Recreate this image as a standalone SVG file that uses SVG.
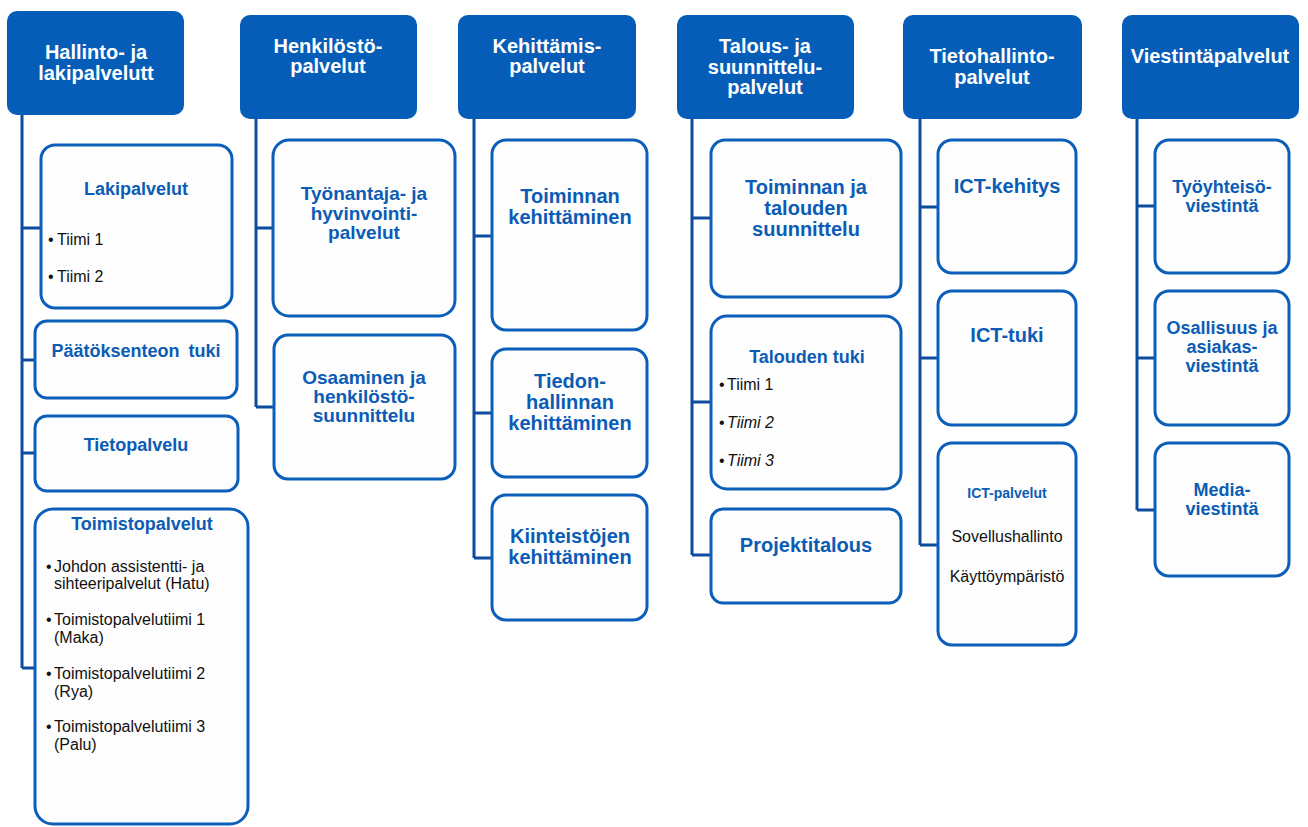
<svg xmlns="http://www.w3.org/2000/svg" width="1308" height="827" viewBox="0 0 1308 827">
<style>
.hd{fill:#055DB8;}
.bx{fill:#FDFDFD;stroke:#0B5EB9;stroke-width:3;}
.ln{fill:none;stroke:#0C4C9E;stroke-width:3;}
.ht{font-family:"Liberation Sans",Arial,sans-serif;font-weight:bold;font-size:20px;fill:#FFFFFF;text-anchor:middle;}
.bt{font-family:"Liberation Sans",Arial,sans-serif;font-weight:bold;fill:#0B5CB5;text-anchor:middle;}
.tx{font-family:"Liberation Sans",Arial,sans-serif;fill:#111111;font-size:16px;}
</style>
<rect width="1308" height="827" fill="#FFFFFF"/>
<g id="connectors">
<path class="ln" d="M22,115 V668 M22,228 H41 M22,360 H35 M22,453 H35 M22,668 H35"/>
<path class="ln" d="M256,119 V407 M256,228 H273 M256,407 H274"/>
<path class="ln" d="M474,119 V558 M474,236 H492 M474,413 H492 M474,558 H492"/>
<path class="ln" d="M692,119 V555 M692,218 H711 M692,402 H711 M692,555 H711"/>
<path class="ln" d="M920,119 V545 M920,207 H938 M920,358 H938 M920,545 H938"/>
<path class="ln" d="M1137,119 V510 M1137,206 H1155 M1137,358 H1155 M1137,510 H1155"/>
</g>
<g id="h1"><rect class="hd" x="7" y="11" width="177" height="104" rx="10"/>
<text class="ht" x="96" y="59">Hallinto- ja</text><text class="ht" x="96" y="80">lakipalvelutt</text></g>
<g id="h2"><rect class="hd" x="240" y="15" width="177" height="104" rx="10"/>
<text class="ht" x="328" y="53">Henkilöstö-</text><text class="ht" x="328" y="73">palvelut</text></g>
<g id="h3"><rect class="hd" x="458" y="15" width="178" height="104" rx="10"/>
<text class="ht" x="547" y="53">Kehittämis-</text><text class="ht" x="547" y="73">palvelut</text></g>
<g id="h4"><rect class="hd" x="677" y="15" width="177" height="104" rx="10"/>
<text class="ht" x="765" y="53">Talous- ja</text><text class="ht" x="765" y="74">suunnittelu-</text><text class="ht" x="765" y="94">palvelut</text></g>
<g id="h5"><rect class="hd" x="903" y="15" width="179" height="104" rx="10"/>
<text class="ht" x="992" y="63">Tietohallinto-</text><text class="ht" x="992" y="84">palvelut</text></g>
<g id="h6"><rect class="hd" x="1122" y="15" width="177" height="104" rx="10"/>
<text class="ht" x="1210" y="63">Viestintäpalvelut</text></g>

<g id="lakipalvelut"><rect class="bx" x="41" y="145" width="191" height="163" rx="14"/>
<text class="bt" x="136" y="195" font-size="18">Lakipalvelut</text>
<text class="tx" x="48" y="245">•<tspan x="57">Tiimi 1</tspan></text>
<text class="tx" x="48" y="282">•<tspan x="57">Tiimi 2</tspan></text></g>
<g id="paatoksenteon"><rect class="bx" x="35" y="321" width="202" height="77" rx="12"/>
<text class="bt" x="136" y="357" font-size="18" word-spacing="4">Päätöksenteon tuki</text></g>
<g id="tietopalvelu"><rect class="bx" x="35" y="416" width="203" height="75" rx="12"/>
<text class="bt" x="136" y="451" font-size="18">Tietopalvelu</text></g>
<g id="toimistopalvelut"><rect class="bx" x="35" y="509" width="213" height="315" rx="18"/>
<text class="bt" x="142" y="530" font-size="18">Toimistopalvelut</text>
<g font-size="16.4">
<text class="tx" x="46" y="572" font-size="16.4">•<tspan x="54">Johdon assistentti- ja</tspan></text>
<text class="tx" x="54" y="589" font-size="16.4">sihteeripalvelut (Hatu)</text>
<text class="tx" x="46" y="625" font-size="16.4">•<tspan x="54">Toimistopalvelutiimi 1</tspan></text>
<text class="tx" x="54" y="643" font-size="16.4">(Maka)</text>
<text class="tx" x="46" y="679" font-size="16.4">•<tspan x="54">Toimistopalvelutiimi 2</tspan></text>
<text class="tx" x="54" y="697" font-size="16.4">(Rya)</text>
<text class="tx" x="46" y="732" font-size="16.4">•<tspan x="54">Toimistopalvelutiimi 3</tspan></text>
<text class="tx" x="54" y="750" font-size="16.4">(Palu)</text></g></g>

<g id="tyonantaja"><rect class="bx" x="273" y="140" width="182" height="176" rx="16"/>
<text class="bt" x="364" y="200" font-size="19">Työnantaja- ja</text>
<text class="bt" x="364" y="220" font-size="19">hyvinvointi-</text>
<text class="bt" x="364" y="239" font-size="19">palvelut</text></g>
<g id="osaaminen"><rect class="bx" x="274" y="335" width="181" height="144" rx="14"/>
<text class="bt" x="364" y="384" font-size="19">Osaaminen ja</text>
<text class="bt" x="364" y="403" font-size="19">henkilöstö-</text>
<text class="bt" x="364" y="422" font-size="19">suunnittelu</text></g>

<g id="toiminnan-kehittaminen"><rect class="bx" x="492" y="140" width="155" height="190" rx="14"/>
<text class="bt" x="570" y="203" font-size="20">Toiminnan</text>
<text class="bt" x="570" y="224" font-size="20">kehittäminen</text></g>
<g id="tiedonhallinnan"><rect class="bx" x="492" y="349" width="155" height="128" rx="14"/>
<text class="bt" x="570" y="388" font-size="20">Tiedon-</text>
<text class="bt" x="570" y="409" font-size="20">hallinnan</text>
<text class="bt" x="570" y="430" font-size="20">kehittäminen</text></g>
<g id="kiinteistojen"><rect class="bx" x="492" y="495" width="155" height="125" rx="14"/>
<text class="bt" x="570" y="543" font-size="20">Kiinteistöjen</text>
<text class="bt" x="570" y="564" font-size="20">kehittäminen</text></g>

<g id="toiminnan-talouden"><rect class="bx" x="711" y="140" width="190" height="157" rx="14"/>
<text class="bt" x="806" y="194" font-size="20">Toiminnan ja</text>
<text class="bt" x="806" y="215" font-size="20">talouden</text>
<text class="bt" x="806" y="236" font-size="20">suunnittelu</text></g>
<g id="talouden-tuki"><rect class="bx" x="711" y="316" width="190" height="173" rx="16"/>
<text class="bt" x="807" y="363" font-size="18">Talouden tuki</text>
<text class="tx" x="719" y="390" font-size="15.6">•<tspan x="727">Tiimi 1</tspan></text>
<text class="tx" x="719" y="428" font-size="15.6">•<tspan x="727" font-style="italic">Tiimi 2</tspan></text>
<text class="tx" x="719" y="466" font-size="15.6">•<tspan x="727" font-style="italic">Tiimi 3</tspan></text></g>
<g id="projektitalous"><rect class="bx" x="711" y="509" width="190" height="94" rx="12"/>
<text class="bt" x="806" y="552" font-size="20">Projektitalous</text></g>

<g id="ict-kehitys"><rect class="bx" x="938" y="140" width="138" height="133" rx="14"/>
<text class="bt" x="1007" y="193" font-size="20">ICT-kehitys</text></g>
<g id="ict-tuki"><rect class="bx" x="938" y="291" width="138" height="134" rx="14"/>
<text class="bt" x="1007" y="342" font-size="20">ICT-tuki</text></g>
<g id="ict-palvelut"><rect class="bx" x="938" y="443" width="138" height="202" rx="14"/>
<text class="bt" x="1007" y="498" font-size="14">ICT-palvelut</text>
<text class="tx" x="1007" y="542" font-size="16.3" text-anchor="middle">Sovellushallinto</text>
<text class="tx" x="1007" y="582" font-size="16.3" text-anchor="middle">Käyttöympäristö</text></g>

<g id="tyoyhteiso"><rect class="bx" x="1155" y="140" width="134" height="133" rx="14"/>
<text class="bt" x="1222" y="193" font-size="18">Työyhteisö-</text>
<text class="bt" x="1222" y="212" font-size="18">viestintä</text></g>
<g id="osallisuus"><rect class="bx" x="1155" y="291" width="134" height="134" rx="14"/>
<text class="bt" x="1222" y="334" font-size="18">Osallisuus ja</text>
<text class="bt" x="1222" y="353" font-size="18">asiakas-</text>
<text class="bt" x="1222" y="372" font-size="18">viestintä</text></g>
<g id="media"><rect class="bx" x="1155" y="443" width="134" height="133" rx="14"/>
<text class="bt" x="1222" y="496" font-size="18">Media-</text>
<text class="bt" x="1222" y="515" font-size="18">viestintä</text></g>
</svg>
